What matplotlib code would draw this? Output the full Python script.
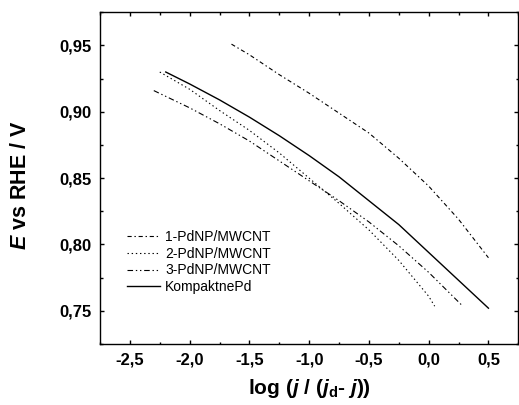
import matplotlib
matplotlib.use("Agg")
import matplotlib.pyplot as plt
from matplotlib.ticker import FixedLocator, FixedFormatter, MultipleLocator

# data
x_pd1 = [-1.65, -1.5, -1.25, -1.0, -0.75, -0.5, -0.25, 0.0, 0.25, 0.5]
e_pd1 = [0.951, 0.943, 0.928, 0.914, 0.899, 0.884, 0.865, 0.844, 0.819, 0.790]

x_pd2 = [-2.25, -2.0, -1.75, -1.5, -1.25, -1.0, -0.75, -0.5, -0.25, 0.0, 0.05]
e_pd2 = [0.930, 0.917, 0.901, 0.886, 0.869, 0.850, 0.831, 0.811, 0.788, 0.761, 0.7535]

x_pd3 = [-2.3, -2.0, -1.75, -1.5, -1.25, -1.0, -0.75, -0.5, -0.25, 0.0, 0.28]
e_pd3 = [0.916, 0.903, 0.891, 0.878, 0.863, 0.848, 0.833, 0.817, 0.799, 0.779, 0.754]

x_komp = [-2.2, -2.0, -1.75, -1.5, -1.25, -1.0, -0.75, -0.5, -0.25, 0.0, 0.25, 0.5]
e_komp = [0.930, 0.921, 0.909, 0.896, 0.882, 0.867, 0.851, 0.833, 0.815, 0.794, 0.773, 0.752]

labels = ["1-PdNP/MWCNT", "2-PdNP/MWCNT", "3-PdNP/MWCNT", "KompaktnePd"]

xticks = [-2.5, -2.0, -1.5, -1.0, -0.5, 0.0, 0.5]
xticklabels = ["-2,5", "-2,0", "-1,5", "-1,0", "-0,5", "0,0", "0,5"]
yticks = [0.75, 0.80, 0.85, 0.90, 0.95]
yticklabels = ["0,75", "0,80", "0,85", "0,90", "0,95"]

plt.rcParams["font.family"] = ["Liberation Sans", "DejaVu Sans"]
plt.rcParams["mathtext.fontset"] = "custom"
plt.rcParams["mathtext.rm"] = "Liberation Sans:bold"
plt.rcParams["mathtext.it"] = "Liberation Sans:italic:bold"
plt.rcParams["lines.scale_dashes"] = False

fig = plt.figure(figsize=(5.19, 4.05), dpi=100)
ax = fig.add_axes([0.1927, 0.1506, 0.806, 0.819])

lw = 0.8
ax.plot(x_pd1, e_pd1, color="black", lw=lw, dashes=(3, 2, 1, 2), label=labels[0])
ax.plot(x_pd2, e_pd2, color="black", lw=lw, dashes=(1, 2), label=labels[1])
ax.plot(x_pd3, e_pd3, color="black", lw=lw, dashes=(4, 2, 1, 2, 1, 2), label=labels[2])
ax.plot(x_komp, e_komp, color="black", lw=1.0, label=labels[3])

ax.set_xlim(-2.75, 0.75)
ax.set_ylim(0.725, 0.975)

ax.xaxis.set_major_locator(FixedLocator(xticks))
ax.xaxis.set_major_formatter(FixedFormatter(xticklabels))
ax.yaxis.set_major_locator(FixedLocator(yticks))
ax.yaxis.set_major_formatter(FixedFormatter(yticklabels))
ax.xaxis.set_minor_locator(MultipleLocator(0.25))
ax.yaxis.set_minor_locator(MultipleLocator(0.025))

ax.tick_params(which="both", direction="in", top=True, right=True, width=1.0)
ax.tick_params(which="major", length=3.2, labelsize=12, pad=6)
ax.tick_params(which="minor", length=1.8)
for lab in ax.get_xticklabels() + ax.get_yticklabels():
    lab.set_fontweight("bold")
for sp in ax.spines.values():
    sp.set_linewidth(1.0)

ax.set_xlabel(r"log $(j$ / $(j_{\rm d}$- $j))$", fontsize=15, fontweight="bold", labelpad=7)
ax.set_ylabel(r"$E$ vs RHE / V", fontsize=15.5, fontweight="bold")
ax.yaxis.set_label_coords(-0.165, 0.48)

ax.legend(loc="lower left", bbox_to_anchor=(0.064, 0.15), frameon=False,
          fontsize=10, handlelength=2.4, handletextpad=0.36,
          labelspacing=0.2, borderpad=0, borderaxespad=0)

fig.savefig("out.png", dpi=100)
